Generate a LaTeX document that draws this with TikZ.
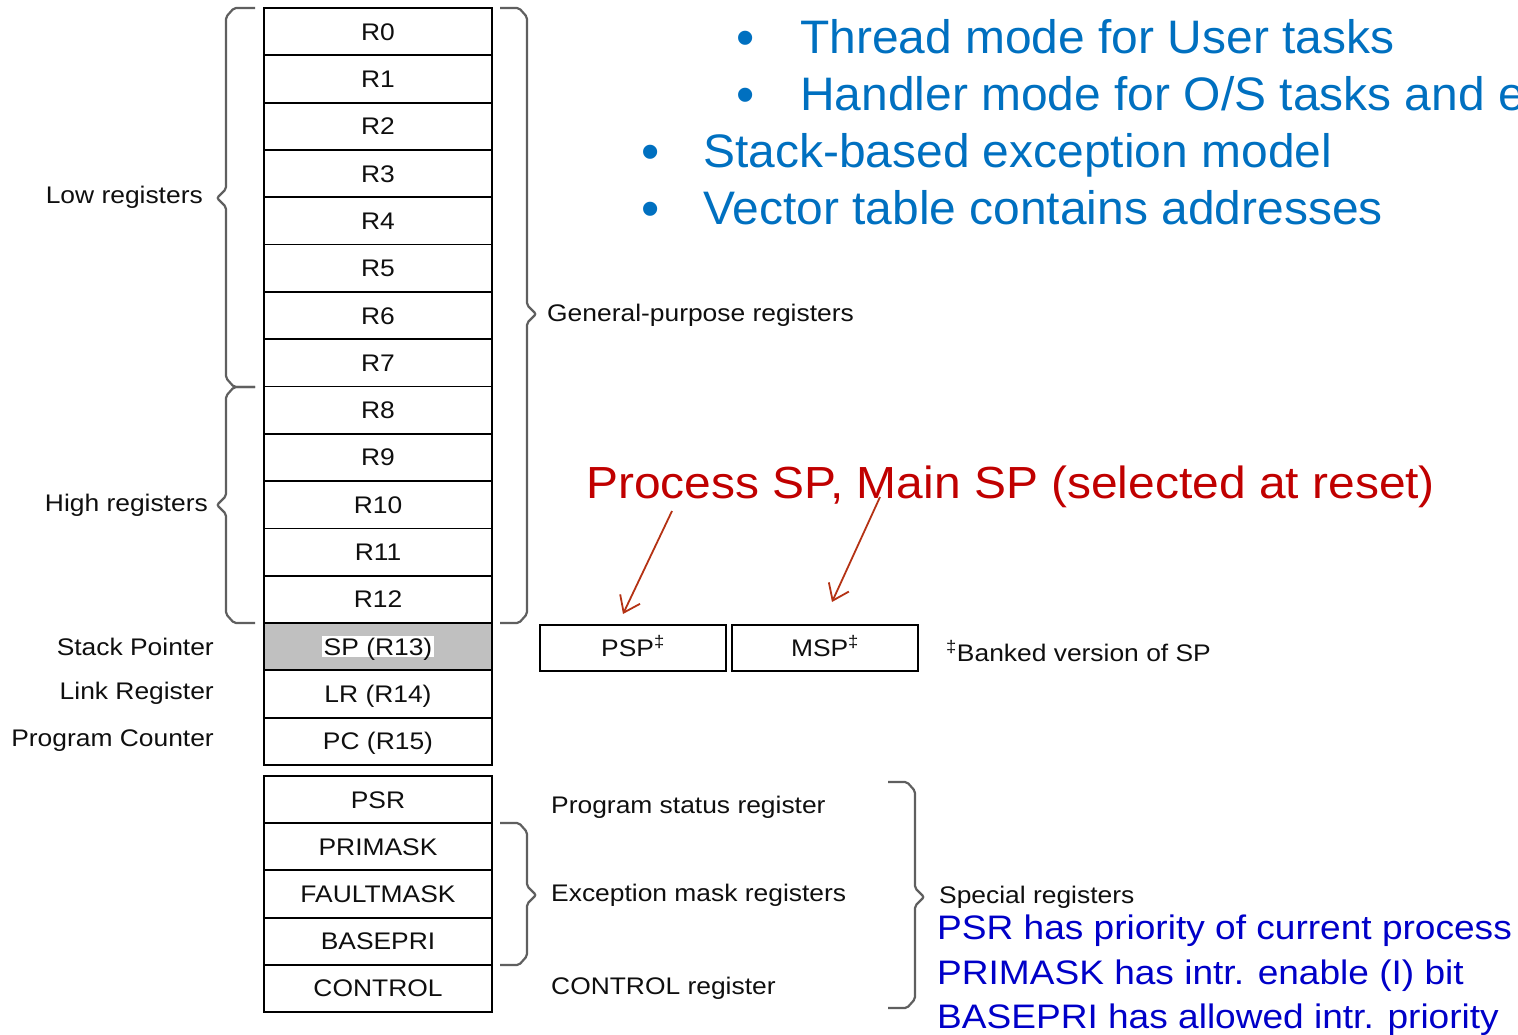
\documentclass[tikz,border=0pt]{standalone}
\usepackage{fontspec}
\setmainfont{Liberation Sans}
\newfontfamily\dgmfont{Liberation Sans}[FakeStretch=1.1]
\newfontfamily\slidefont{Liberation Sans}[FakeStretch=1.02]
\newfontfamily\notefont{Liberation Sans}[FakeStretch=1.09]
\newfontfamily\redfont{Liberation Sans}[FakeStretch=1.065]
\usetikzlibrary{arrows.meta}
\definecolor{slideblue}{RGB}{0,112,192}
\definecolor{noteblue}{RGB}{0,0,200}
\definecolor{notered}{RGB}{192,0,0}
\definecolor{arrowred}{RGB}{180,50,20}
\definecolor{bracegray}{RGB}{95,95,95}
\definecolor{spgray}{RGB}{192,192,192}
\definecolor{inkgray}{RGB}{15,15,15}
\begin{document}
\begin{tikzpicture}[x=1pt,y=-1pt,
  dgm/.style={font={\dgmfont\fontsize{24}{28}\selectfont}, text=inkgray, inner sep=0pt},
  boxtext/.style={text height=17pt, text depth=0pt},
  reg/.style={dgm, boxtext, draw=black, line width=1.8pt, minimum width=228pt, minimum height=47.3pt},
  bank/.style={dgm, boxtext, draw=black, line width=1.8pt, minimum width=186pt, minimum height=46pt},
  brc/.style={draw=bracegray, line width=2.2pt, rounded corners=2pt},
  slide/.style={font={\slidefont\fontsize{47}{54}\selectfont}, text=slideblue, inner sep=0pt, anchor=base west},
  bul/.style={font={\fontsize{52}{58}\selectfont}, text=slideblue, inner sep=0pt, anchor=base},
  note/.style={font={\notefont\fontsize{34}{40}\selectfont}, text=noteblue, inner sep=0pt, anchor=base west},
  arr/.style={draw=arrowred, line width=1.8pt, -{Straight Barb[length=15pt,width=22pt]}}
]
\useasboundingbox (0,0) rectangle (1518,1034);

% core registers R0-R12
\foreach \i in {0,...,12}
  \node[reg] (r\i) at (378,{8+47.31*(\i+0.5)}) {R\i};
% SP, LR, PC
\node[reg, fill=spgray] (sp) at (378,{8+47.31*13.5}) {};
\node[dgm, boxtext, fill=white, inner sep=2pt] (sptext) at (sp.center) {SP (R13)};
\node[reg] (lr) at (378,{8+47.31*14.5}) {LR (R14)};
\node[reg] (pc) at (378,{8+47.31*15.5}) {PC (R15)};

% special registers
\node[reg] (psr)  at (378,{776+47.2*0.5}) {PSR};
\node[reg] (prim) at (378,{776+47.2*1.5}) {PRIMASK};
\node[reg] (fault) at (378,{776+47.2*2.5}) {FAULTMASK};
\node[reg] (base) at (378,{776+47.2*3.5}) {BASEPRI};
\node[reg] (ctrl) at (378,{776+47.2*4.5}) {CONTROL};

% banked stack pointers
\node[bank] (psp) at (633,648) {PSP\textsuperscript{‡}};
\node[bank] (msp) at (825,648) {MSP\textsuperscript{‡}};
\node[dgm, anchor=west] (banknote) at (946,651) {\textsuperscript{‡}Banked version of SP};

% left-hand labels
\node[dgm, anchor=east] (lowlbl)  at (203,197) {Low registers};
\node[dgm, anchor=east] (highlbl) at (208,505) {High registers};
\node[dgm, anchor=east] (splbl)   at (214,647) {Stack Pointer};
\node[dgm, anchor=east] (lrlbl)   at (214,693) {Link Register};
\node[dgm, anchor=east] (pclbl)   at (214,741) {Program Counter};

% right-hand labels
\node[dgm, anchor=west] (gplbl)   at (547,315) {General-purpose registers};
\node[dgm, anchor=west] (psrlbl)  at (551,807) {Program status register};
\node[dgm, anchor=west] (exclbl)  at (551,895) {Exception mask registers};
\node[dgm, anchor=west] (ctrllbl) at (551,988) {CONTROL register};
\node[dgm, anchor=base west] (spclbl) at (939,903) {Special registers};

% braces
\draw[brc] (255,8) -- (234,8) -- (226,17) -- (226,189) -- (217,198) -- (226,207)
           -- (226,378) -- (234,387) -- (255,387);
\draw[brc] (255,387) -- (234,387) -- (226,396) -- (226,496) -- (217,505) -- (226,514)
           -- (226,614) -- (234,623) -- (255,623);
\draw[brc] (500,8) -- (519,8) -- (527,17) -- (527,305) -- (536,314) -- (527,323)
           -- (527,614) -- (519,623) -- (500,623);
\draw[brc] (500,823) -- (519,823) -- (527,832) -- (527,886) -- (536,895) -- (527,904)
           -- (527,956) -- (519,965) -- (500,965);
\draw[brc] (888,782) -- (907,782) -- (915,791) -- (915,888) -- (924,897) -- (915,906)
           -- (915,999) -- (907,1008) -- (888,1008);

% bullet list
\node[bul] (b1) at (746,55)  {•};
\node[slide] (t1) at (800,53)  {Thread mode for User tasks};
\node[bul] (b2) at (746,112) {•};
\node[slide] (t2) at (800,110) {Handler mode for O/S tasks and e};
\node[bul] (b3) at (651,169) {•};
\node[slide] (t3) at (703,167) {Stack-based exception model};
\node[bul] (b4) at (651,226) {•};
\node[slide] (t4) at (703,224) {Vector table contains addresses};

% stack pointer annotation
\node[font={\redfont\fontsize{45}{52}\selectfont}, text=notered, inner sep=0pt, anchor=base west]
  (sel) at (586,498) {Process SP, Main SP (selected at reset)};
\coordinate (pspfrom) at (672,511);
\coordinate (pspto)   at (623,614);
\coordinate (mspfrom) at (880,497);
\coordinate (mspto)   at (832,602);
\draw[arr] (pspfrom) -- (pspto);
\draw[arr] (mspfrom) -- (mspto);

% notes on special registers
\node[note] (n1) at (937,939)  {PSR has priority of current process};
\node[note] (n2) at (937,984)  {PRIMASK has intr. enable (I) bit};
\node[note] (n3) at (937,1028) {BASEPRI has allowed intr. priority};
\end{tikzpicture}
\end{document}
